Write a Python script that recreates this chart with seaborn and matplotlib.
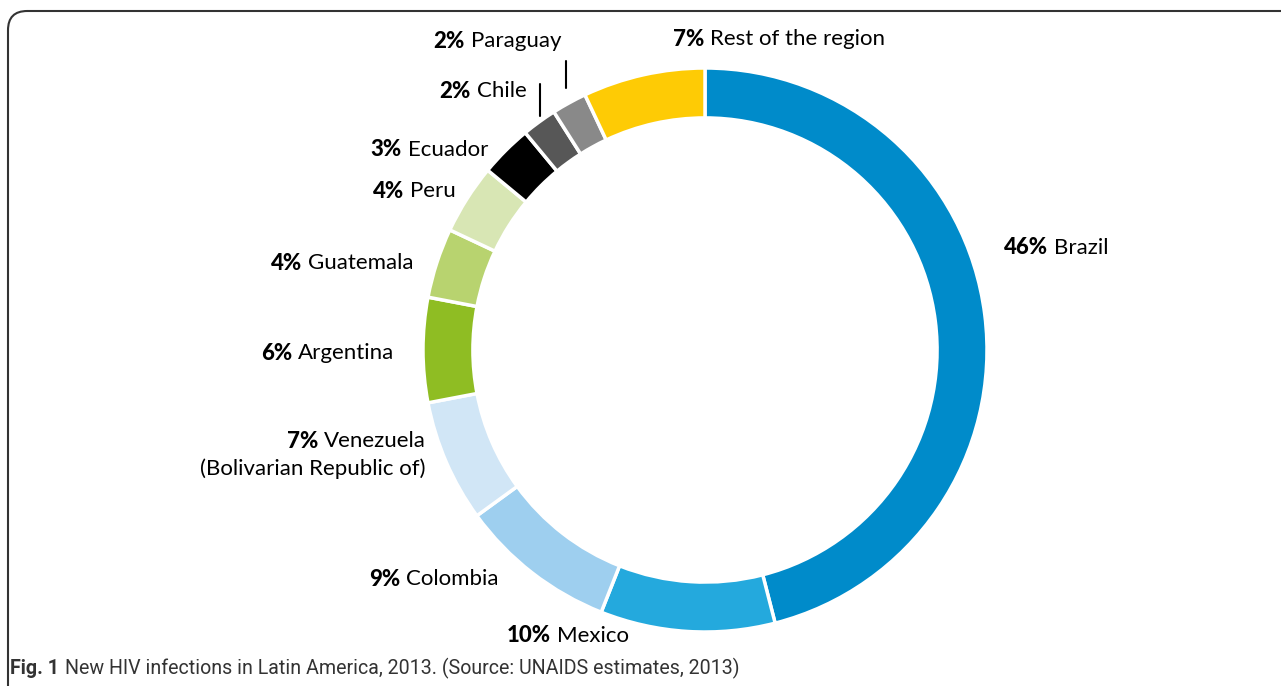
import matplotlib
matplotlib.use("Agg")
import matplotlib.pyplot as plt
from matplotlib.patches import FancyBboxPatch
from matplotlib.lines import Line2D
import seaborn as sns

# 데이터 (시계 방향, 12시부터)
countries = ['Brazil', 'Mexico', 'Colombia', 'Venezuela\n(Bolivarian Republic of)',
             'Argentina', 'Guatemala', 'Peru', 'Ecuador', 'Chile', 'Paraguay',
             'Rest of the region']
shares = [46, 10, 9, 7, 6, 4, 4, 3, 2, 2, 7]
colors = ['#008bca', '#24a9dd', '#9ecfef', '#d1e6f6', '#8fbd23', '#b8d36f',
          '#d8e6b4', '#000000', '#575757', '#898989', '#fecb05']

# 라벨 위치 (픽셀, 굵은 % 끝나는 지점, 세로 중심)
label_pos = [(1051, 248), (554, 636), (403, 579), (321, 441), (295, 353),
             (305, 263), (407, 191), (405, 150), (474, 91), (468, 41), (707, 39)]

W, H = 1281, 686
sns.set_theme(style="white")
plt.rcParams['font.family'] = ['Lato', 'DejaVu Sans']
cap_font = 'Roboto'

fig = plt.figure(figsize=(W / 100, H / 100), dpi=100)
fig.patch.set_facecolor('white')


def fx(x):
    return x / W


def fy(y):
    return 1 - y / H


# 도넛 위치: 중심 (705, 350), 반지름 282px
cx, cy, r = 705, 350, 282
ax = fig.add_axes([fx(cx - r), fy(cy + r), 2 * r / W, 2 * r / H])
ax.pie(shares, colors=sns.color_palette(colors), startangle=90, counterclock=False,
       radius=1, wedgeprops=dict(width=0.177, edgecolor='white', linewidth=2.5))
ax.set_xlim(-1, 1)
ax.set_ylim(-1, 1)
ax.axis('off')

fig.canvas.draw()
renderer = fig.canvas.get_renderer()
fs = 16

for name, val, (xs, y) in zip(countries, shares, label_pos):
    lines = name.split('\n')
    fig.text(fx(xs - 3), fy(y), f'{val}%', ha='right', va='center',
             fontsize=fs, fontweight='black', color='black')
    t = fig.text(fx(xs + 3), fy(y), lines[0], ha='left', va='center',
                 fontsize=fs, color='black')
    if len(lines) > 1:
        bb = t.get_window_extent(renderer)
        fig.text(bb.x1 / W, fy(y + 28), lines[1], ha='right', va='center',
                 fontsize=fs, color='black')

# 작은 조각 안내선
for x, y0, y1 in [(566, 61, 88), (540, 84, 116)]:
    fig.add_artist(Line2D([fx(x), fx(x)], [fy(y0), fy(y1)], color='black', lw=1.5))

# 테두리
frame = FancyBboxPatch((fx(8), fy(760)), fx(1400), fy(11) - fy(760),
                       boxstyle='round,pad=0,rounding_size=0.015',
                       transform=fig.transFigure, fill=False,
                       edgecolor='#333333', lw=1.5, mutation_aspect=W / H)
fig.add_artist(frame)

# 캡션
c1 = fig.text(fx(10), fy(668), 'Fig. 1', ha='left', va='center', fontsize=14.1,
              fontweight='bold', family=cap_font, color='#333333')
bb = c1.get_window_extent(renderer)
fig.text((bb.x1 + 6) / W, fy(668),
         'New HIV infections in Latin America, 2013. (Source: UNAIDS estimates, 2013)',
         ha='left', va='center', fontsize=14.1, family=cap_font, color='#333333')

fig.savefig('out.png', dpi=100)
